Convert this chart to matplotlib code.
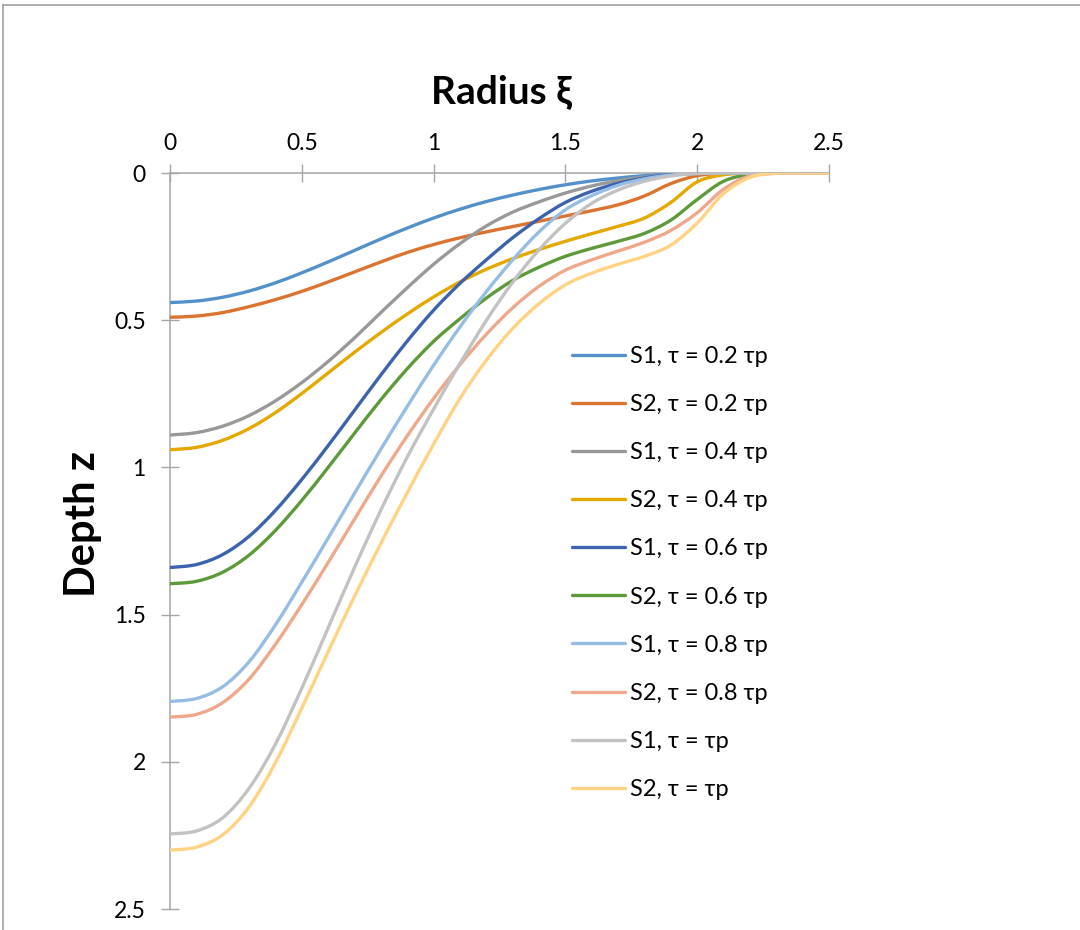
import matplotlib
matplotlib.use("Agg")
import matplotlib.pyplot as plt
from matplotlib.lines import Line2D
from matplotlib.path import Path
from matplotlib.patches import PathPatch

plt.rcParams['font.family'] = ['Lato', 'Noto Sans', 'DejaVu Sans']

# ---- data -------------------------------------------------------------
radius = [0.0, 0.1, 0.2, 0.3, 0.4, 0.5, 0.6, 0.7, 0.8, 0.9, 1.0, 1.1, 1.2,
          1.3, 1.4, 1.5, 1.6, 1.7, 1.8, 1.9, 2.0, 2.1, 2.2, 2.3, 2.4, 2.5]

s1_t02 = [0.44, 0.435, 0.422, 0.401, 0.373, 0.339, 0.302, 0.263, 0.224, 0.187, 0.153, 0.123, 0.097,
          0.075, 0.056, 0.040, 0.027, 0.017, 0.009, 0.004, 0.001, 0, 0, 0, 0, 0]
s2_t02 = [0.49, 0.486, 0.474, 0.454, 0.43, 0.402, 0.37, 0.336, 0.302, 0.27, 0.243, 0.22, 0.2,
          0.182, 0.164, 0.146, 0.128, 0.108, 0.078, 0.036, 0.009, 0.001, 0, 0, 0, 0]
s1_t04 = [0.89, 0.882, 0.86, 0.824, 0.774, 0.712, 0.64, 0.56, 0.474, 0.39, 0.31, 0.24, 0.18,
          0.133, 0.098, 0.068, 0.044, 0.026, 0.014, 0.006, 0.002, 0, 0, 0, 0, 0]
s2_t04 = [0.94, 0.932, 0.908, 0.868, 0.814, 0.749, 0.679, 0.609, 0.542, 0.479, 0.421, 0.37, 0.327,
          0.291, 0.26, 0.232, 0.206, 0.181, 0.153, 0.1, 0.03, 0.006, 0.001, 0, 0, 0]
s1_t06 = [1.34, 1.33, 1.296, 1.234, 1.146, 1.041, 0.926, 0.806, 0.686, 0.571, 0.466, 0.375, 0.295,
          0.22, 0.155, 0.1, 0.062, 0.035, 0.017, 0.006, 0.001, 0, 0, 0, 0, 0]
s2_t06 = [1.395, 1.387, 1.356, 1.298, 1.214, 1.112, 1.0, 0.884, 0.77, 0.665, 0.572, 0.495, 0.425,
          0.365, 0.32, 0.283, 0.256, 0.232, 0.205, 0.16, 0.09, 0.028, 0.005, 0.001, 0, 0]
s1_t08 = [1.795, 1.785, 1.745, 1.66, 1.535, 1.39, 1.24, 1.088, 0.938, 0.793, 0.653, 0.523, 0.403,
          0.295, 0.2, 0.125, 0.077, 0.042, 0.02, 0.007, 0.001, 0, 0, 0, 0, 0]
s2_t08 = [1.848, 1.839, 1.799, 1.719, 1.601, 1.466, 1.323, 1.176, 1.03, 0.893, 0.766, 0.651, 0.548,
          0.458, 0.385, 0.33, 0.295, 0.265, 0.235, 0.195, 0.135, 0.055, 0.01, 0.001, 0, 0]
s1_t10 = [2.245, 2.235, 2.19, 2.09, 1.94, 1.75, 1.545, 1.34, 1.145, 0.965, 0.802, 0.647, 0.501,
          0.371, 0.261, 0.171, 0.103, 0.058, 0.028, 0.01, 0.002, 0, 0, 0, 0, 0]
s2_t10 = [2.3, 2.29, 2.248, 2.153, 2.003, 1.818, 1.626, 1.438, 1.258, 1.086, 0.921, 0.766, 0.636,
          0.528, 0.444, 0.38, 0.34, 0.31, 0.283, 0.245, 0.17, 0.07, 0.015, 0.001, 0, 0]

series_labels = ["S1, τ = 0.2 τp", "S2, τ = 0.2 τp", "S1, τ = 0.4 τp", "S2, τ = 0.4 τp",
                 "S1, τ = 0.6 τp", "S2, τ = 0.6 τp", "S1, τ = 0.8 τp", "S2, τ = 0.8 τp",
                 "S1, τ = τp", "S2, τ = τp"]
series_values = [s1_t02, s2_t02, s1_t04, s2_t04, s1_t06, s2_t06, s1_t08, s2_t08, s1_t10, s2_t10]
series_colors = ["#5591C9", "#DA7430", "#999999", "#E5A800", "#3D62AE",
                 "#5F9A3A", "#97BDE4", "#F0A88C", "#C2C2C2", "#FFD383"]

x_ticks = [0, 0.5, 1, 1.5, 2, 2.5]
x_ticklabels = ["0", "0.5", "1", "1.5", "2", "2.5"]
y_ticks = [0, 0.5, 1, 1.5, 2, 2.5]
y_ticklabels = ["0", "0.5", "1", "1.5", "2", "2.5"]


def smooth_path(xs, ys):
    """Excel-style smoothed line: cubic Bezier segments through every data point."""
    n = len(xs)
    verts = [(xs[0], ys[0])]
    codes = [Path.MOVETO]
    for i in range(n - 1):
        x0, y0 = xs[max(i - 1, 0)], ys[max(i - 1, 0)]
        x1, y1 = xs[i], ys[i]
        x2, y2 = xs[i + 1], ys[i + 1]
        x3, y3 = xs[min(i + 2, n - 1)], ys[min(i + 2, n - 1)]
        c1 = (x1 + (x2 - x0) / 6.0, y1 + (y2 - y0) / 6.0)
        c2 = (x2 - (x3 - x1) / 6.0, y2 - (y3 - y1) / 6.0)
        verts += [c1, c2, (x2, y2)]
        codes += [Path.CURVE4, Path.CURVE4, Path.CURVE4]
    return Path(verts, codes)


# ---- figure -----------------------------------------------------------
W, H = 1080, 930
fig = plt.figure(figsize=(W / 100, H / 100), dpi=100)
ax = fig.add_axes([170 / W, 1 - 909 / H, (829 - 170) / W, (909 - 173) / H])

axis_grey = "#A6A6A6"
LW = 2.4
handles = []
for vals, lab, col in zip(series_values, series_labels, series_colors):
    patch = PathPatch(smooth_path(radius, vals), facecolor='none', edgecolor=col, lw=LW,
                      capstyle='round', joinstyle='round', zorder=3)
    ax.add_patch(patch)
    handles.append(Line2D([], [], color=col, lw=LW, solid_capstyle='round', label=lab))

ax.set_xlim(0, 2.5)
ax.set_ylim(2.5, 0)
ax.xaxis.tick_top()
ax.set_xticks(x_ticks)
ax.set_xticklabels(x_ticklabels)
ax.set_yticks(y_ticks)
ax.set_yticklabels(y_ticklabels)

for side in ("right", "bottom"):
    ax.spines[side].set_visible(False)
for side in ("left", "top"):
    ax.spines[side].set_color(axis_grey)
    ax.spines[side].set_linewidth(1.1)
    ax.spines[side].set_zorder(1)

ax.tick_params(axis='x', direction='inout', length=13, width=1.0, color=axis_grey,
               pad=7, labelsize=16.5, labelcolor='black')
ax.tick_params(axis='y', direction='inout', length=13, width=1.0, color=axis_grey,
               pad=11, labelsize=16.5, labelcolor='black')
ax.set_facecolor('none')

fig.text(501 / W, 1 - 92 / H, "Radius ξ", ha='center', va='center',
         fontsize=28, fontweight='bold')
fig.text(83 / W, 1 - 524 / H, "Depth z", ha='center', va='center',
         fontsize=30, fontweight='bold', rotation=90)

leg = ax.legend(handles=handles, loc='center left', bbox_to_anchor=(572 / W, 1 - 573 / H),
                bbox_transform=fig.transFigure, frameon=False, fontsize=17,
                handlelength=2.25, handletextpad=0.22, labelspacing=1.15, borderpad=0,
                borderaxespad=0)

# outer chart border (top and left visible)
fig.add_artist(Line2D([3 / W, 1.0], [1 - 5 / H, 1 - 5 / H], transform=fig.transFigure,
                      color="#A0A0A0", lw=1.2))
fig.add_artist(Line2D([3 / W, 3 / W], [0, 1 - 5 / H], transform=fig.transFigure,
                      color="#A0A0A0", lw=1.2))

fig.savefig("out.png", dpi=100)
